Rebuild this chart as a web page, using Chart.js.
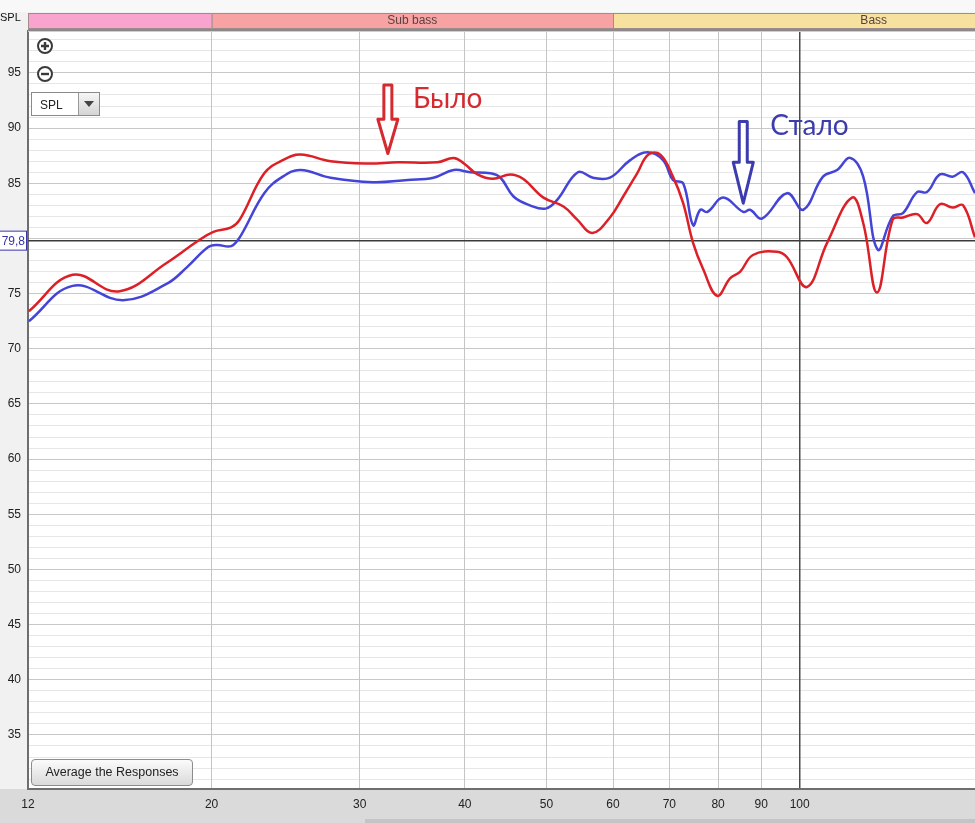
<!DOCTYPE html>
<html>
<head>
<meta charset="utf-8">
<script src="https://cdn.jsdelivr.net/npm/chart.js@4.4.1/dist/chart.umd.min.js"></script>
<style>
  body { margin: 0; background: #f4f4f4; font-family: "Liberation Sans", Arial, sans-serif; }
  #wrap { position: relative; width: 975px; height: 823px; overflow: hidden; }
  #grafica { position: absolute; left: 0; top: 0; }
  .ui { position: absolute; font-size: 12px; color: #222; }
  #splTop { left: 0; top: 11px; font-size: 11px; color: #111; }
  #splBox { left: 31px; top: 92px; width: 69px; height: 24px; background: #fff; border: 1px solid #8a8a8a; box-sizing: border-box; }
  #splBox span { position: absolute; left: 8px; top: 5px; }
  #splBox i { position: absolute; right: 0; top: 0; width: 20px; height: 22px; border-left: 1px solid #999;
              background: linear-gradient(#f6f6f6, #d4d4d4); }
  #splBox i:after { content: ""; position: absolute; left: 5px; top: 8px; border-left: 5px solid transparent;
              border-right: 5px solid transparent; border-top: 6px solid #444; }
  #avgBtn { left: 31px; top: 759px; width: 162px; height: 27px; box-sizing: border-box; border: 1px solid #8c8c8c;
            border-radius: 4px; background: linear-gradient(#fbfbfb, #dadada); font-size: 12.5px; text-align: center; line-height: 25px; }
</style>
</head>
<body>
<div id="wrap">
  <canvas id="grafica" width="975" height="823"></canvas>
  <div class="ui" id="splTop">SPL</div>
  <svg class="ui" style="left:37px;top:38px" width="18" height="46">
    <circle cx="8" cy="8" r="7" fill="#fff" stroke="#3a3a3a" stroke-width="2"/>
    <path d="M4 8h8M8 4v8" stroke="#3a3a3a" stroke-width="2.4"/>
    <circle cx="8" cy="36" r="7" fill="#fff" stroke="#3a3a3a" stroke-width="2"/>
    <path d="M4 36h8" stroke="#3a3a3a" stroke-width="2.4"/>
  </svg>
  <div class="ui" id="splBox"><span>SPL</span><i></i></div>
  <div class="ui" id="avgBtn">Average the Responses</div>
</div>
<script>
// frecuencias (Hz) y niveles (dB)
var freqBylo = [12.13, 13.67, 15.5, 17.7, 19.2, 20.1, 21.1, 21.6, 23.1, 24.3, 25.5, 27.7, 30.6, 33.3, 37.1, 38.8, 39.9,
  41.4, 43.2, 45.3, 46.9, 49.6, 52.4, 54.4, 56.7, 59.5, 61.7, 64.1, 66.1, 68.3, 70.7, 72.7, 74.7, 76.8, 79.8, 82.7,
  85.0, 88.0, 94.0, 96.6, 102, 107.8, 115.4, 119, 123.6, 129, 132.7, 137.9, 141.7, 146.8, 152, 156.4, 161.6];
var splBylo = [73.4, 76.7, 75.2, 77.8, 79.7, 80.6, 81.0, 81.7, 85.9, 87.1, 87.6, 87.0, 86.8, 86.9, 86.9, 87.3, 86.8,
  85.8, 85.4, 85.8, 85.4, 83.7, 82.9, 81.7, 80.5, 81.9, 83.8, 85.9, 87.6, 87.6, 85.6, 83.2, 79.6, 77.2, 74.8, 76.4,
  77.0, 78.5, 78.8, 78.3, 75.6, 79.6, 83.7, 81.4, 75.1, 81.7, 81.9, 82.2, 81.4, 83.1, 82.8, 83.0, 80.1];

var freqStalo = [12.13, 13.67, 15.7, 17.7, 18.7, 19.8, 20.3, 21.1, 21.6, 23.1, 24.3, 25.5, 27.7, 31.1, 34.2, 36.7, 38.8,
  40.6, 42.9, 44.1, 45.7, 47.8, 49.9, 51.5, 54.5, 56.8, 59.5, 62.9, 65.9, 68.8, 70.7, 72.7, 74.7, 76.2, 77.7, 81.1,
  85.7, 87.3, 90.2, 96.6, 101, 106.6, 110.8, 114.8, 119, 123.8, 129, 132.7, 137.9, 141.7, 146.8, 152, 156.4, 161.6];
var splStalo = [72.5, 75.7, 74.4, 75.9, 77.4, 79.2, 79.4, 79.3, 80.1, 84.1, 85.6, 86.2, 85.5, 85.1, 85.3, 85.5, 86.2,
  86.0, 85.9, 85.5, 83.8, 83.0, 82.7, 83.5, 86.0, 85.5, 85.5, 87.1, 87.8, 87.1, 85.3, 85.0, 81.2, 82.6, 82.4, 83.7,
  82.4, 82.6, 81.8, 84.1, 82.6, 85.6, 86.2, 87.3, 85.6, 79.0, 82.0, 82.3, 84.2, 84.2, 85.8, 85.6, 86.0, 84.1];

var xTicks = [12.1, 20, 30, 40, 50, 60, 70, 80, 90, 100];
var yTickLabels = [35, 40, 45, 50, 55, 60, 65, 70, 75, 85, 90, 95];
var nivelRef = 79.8;

// bandas de la parte superior
var bandas = [
  { desde: 12.1, hasta: 20, nombre: "", color: "#f9a3cf" },
  { desde: 20, hasta: 60, nombre: "Sub bass", color: "#f8a3a3" },
  { desde: 60, hasta: 250, nombre: "Bass", color: "#f6e19e" }
];

// flechas y textos
var notas = [
  { texto: "Было", color: "#d42a30", freq: 32.4, top: 93.9, bottom: 87.7, textoFreq: 34.7, textoDb: 91.8 },
  { texto: "Стало", color: "#3c3cae", freq: 85.7, top: 90.6, bottom: 83.2, textoFreq: 92.3, textoDb: 89.4 }
];

function juntar(fs, vs) {
  return fs.map(function (f, i) { return { x: f, y: vs[i] }; });
}

var fondoPlugin = {
  id: "fondo",
  beforeDraw: function (chart) {
    var c = chart.ctx, a = chart.chartArea;
    c.save();
    c.fillStyle = "#f1f1f1";
    c.fillRect(0, 0, chart.width, chart.height);
    c.fillStyle = "#f8f8f8";
    c.fillRect(0, 0, chart.width, 12);
    c.fillStyle = "#dadada";
    c.fillRect(0, a.bottom, chart.width, chart.height - a.bottom);
    c.fillStyle = "#c4c4c4";
    c.fillRect(365, 819, chart.width - 365, 4);
    c.fillStyle = "#fff";
    c.fillRect(a.left, a.top, a.right - a.left, a.bottom - a.top);
    c.restore();
  },
  beforeDatasetsDraw: function (chart) {
    var c = chart.ctx, a = chart.chartArea;
    var y = chart.scales.y.getPixelForValue(nivelRef);
    c.save();
    c.strokeStyle = "#3a3a3a";
    c.lineWidth = 1.5;
    c.beginPath();
    c.moveTo(a.left, y);
    c.lineTo(a.right, y);
    c.stroke();
    c.restore();
  },
  afterDraw: function (chart) {
    var c = chart.ctx, a = chart.chartArea, sx = chart.scales.x, sy = chart.scales.y;
    c.save();
    // bandas
    bandas.forEach(function (b) {
      var p1 = sx.getPixelForValue(b.desde), p2 = sx.getPixelForValue(b.hasta);
      var x1 = Math.max(p1, a.left);
      var x2 = Math.min(p2, chart.width + 2);
      c.fillStyle = b.color;
      c.fillRect(x1, 13, x2 - x1, 16);
      c.strokeStyle = "#a08c8c";
      c.lineWidth = 1;
      c.strokeRect(x1 + 0.5, 13.5, x2 - x1, 15);
      if (b.nombre) {
        c.fillStyle = "#5a4040";
        c.font = "12px 'Liberation Sans', Arial, sans-serif";
        c.textAlign = "center";
        c.textBaseline = "middle";
        c.fillText(b.nombre, (p1 + p2) / 2, 21);
      }
    });
    // marco superior
    c.fillStyle = "#8a8a8a";
    c.fillRect(a.left, 29, a.right - a.left, 2);
    c.fillStyle = "#cfcfcf";
    c.fillRect(a.left, 31, a.right - a.left, 1);
    // etiqueta 79,8
    var yr = sy.getPixelForValue(nivelRef);
    c.fillStyle = "#fff";
    c.fillRect(-2, yr - 10, 29, 20);
    c.strokeStyle = "#3535a8";
    c.lineWidth = 1;
    c.strokeRect(-1.5, yr - 9.5, 28, 19);
    c.fillStyle = "#3535a8";
    c.font = "12px 'Liberation Sans', Arial, sans-serif";
    c.textAlign = "right";
    c.textBaseline = "middle";
    c.fillText("79,8", 25, yr + 1);
    // flechas
    notas.forEach(function (n) {
      var x = sx.getPixelForValue(n.freq);
      var y1 = sy.getPixelForValue(n.top), y2 = sy.getPixelForValue(n.bottom);
      var cuello = y1 + (y2 - y1) * 0.5;
      c.beginPath();
      c.moveTo(x - 4, y1);
      c.lineTo(x + 4, y1);
      c.lineTo(x + 4, cuello);
      c.lineTo(x + 10, cuello);
      c.lineTo(x, y2);
      c.lineTo(x - 10, cuello);
      c.lineTo(x - 4, cuello);
      c.closePath();
      c.fillStyle = "#fff";
      c.fill();
      c.strokeStyle = n.color;
      c.lineWidth = 3;
      c.lineJoin = "round";
      c.stroke();
      c.fillStyle = n.color;
      c.font = "28px Lato, 'Noto Sans', sans-serif";
      c.textAlign = "left";
      c.textBaseline = "alphabetic";
      c.fillText(n.texto, sx.getPixelForValue(n.textoFreq), sy.getPixelForValue(n.textoDb));
    });
    c.restore();
  }
};

var ctx = document.getElementById("grafica").getContext("2d");
var grafica = new Chart(ctx, {
  type: "line",
  data: {
    datasets: [
      { label: "Было", data: juntar(freqBylo, splBylo), borderColor: "#dc2028", borderWidth: 2.5,
        pointRadius: 0, tension: 0.4, fill: false },
      { label: "Стало", data: juntar(freqStalo, splStalo), borderColor: "#4444d6", borderWidth: 2.5,
        pointRadius: 0, tension: 0.4, fill: false }
    ]
  },
  options: {
    responsive: false,
    animation: false,
    devicePixelRatio: 1,
    layout: { padding: { top: 31, left: 0, right: 0, bottom: 0 } },
    plugins: { legend: { display: false }, tooltip: { enabled: false } },
    scales: {
      x: {
        type: "logarithmic",
        min: 12.1,
        max: 161.6,
        afterBuildTicks: function (s) { s.ticks = xTicks.map(function (v) { return { value: v }; }); },
        afterFit: function (s) { s.height = 34; },
        grid: {
          z: -1,
          drawTicks: false,
          color: function (c) { return c.tick && c.tick.value === 100 ? "#4a4a4a" : "#c4c4c4"; },
          lineWidth: function (c) { return c.tick && c.tick.value === 100 ? 1.5 : 1; }
        },
        border: { color: "#6e6e6e", width: 2 },
        ticks: {
          padding: 8,
          maxRotation: 0,
          autoSkip: false,
          color: "#222",
          font: { family: "'Liberation Sans', Arial, sans-serif", size: 12 },
          callback: function (v) { return String(Math.round(v)); }
        }
      },
      y: {
        min: 30.1,
        max: 98.8,
        afterBuildTicks: function (s) {
          var t = [];
          for (var v = 31; v <= 98; v++) t.push({ value: v });
          s.ticks = t;
        },
        afterFit: function (s) { s.width = 28; },
        grid: {
          z: -2,
          drawTicks: false,
          color: function (c) { return c.tick && c.tick.value % 5 === 0 ? "#c8c8c8" : "#e6e6e6"; }
        },
        border: { color: "#6e6e6e", width: 2 },
        ticks: {
          padding: 7,
          autoSkip: false,
          color: "#222",
          font: { family: "'Liberation Sans', Arial, sans-serif", size: 12 },
          callback: function (v) { return yTickLabels.indexOf(v) >= 0 ? String(v) : ""; }
        }
      }
    }
  },
  plugins: [fondoPlugin]
});
</script>
</body>
</html>
